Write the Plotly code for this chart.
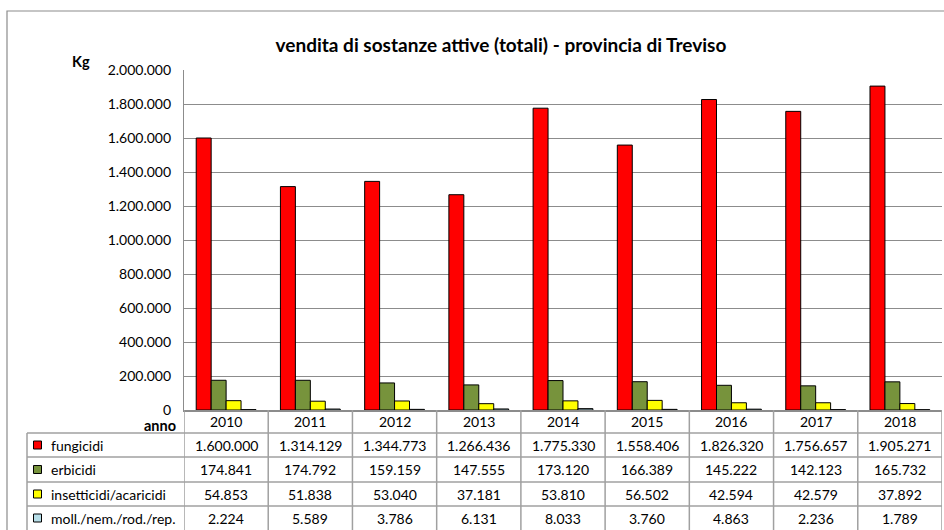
import plotly.graph_objects as go

years = ["2010", "2011", "2012", "2013", "2014", "2015", "2016", "2017", "2018"]
fungicidi = [1600000, 1314129, 1344773, 1266436, 1775330, 1558406, 1826320, 1756657, 1905271]
erbicidi = [174841, 174792, 159159, 147555, 173120, 166389, 145222, 142123, 165732]
insetticidi = [54853, 51838, 53040, 37181, 53810, 56502, 42594, 42579, 37892]
molluschicidi = [2224, 5589, 3786, 6131, 8033, 3760, 4863, 2236, 1789]

series_names = ["fungicidi", "erbicidi", "insetticidi/acaricidi", "moll./nem./rod./rep."]
series_values = [fungicidi, erbicidi, insetticidi, molluschicidi]
series_colors = ["#FF0000", "#77933C", "#FFFF00", "#B7DEE8"]

W, H = 944, 530
L, R, T, B = 184, 2, 70, 120
PW, PH = W - L - R, H - T - B
FONT = "Lato"


def px_x(px):
    return (px - L) / PW


def px_y(py):
    return (H - B - py) / PH


def fmt(v):
    return f"{v:,}".replace(",", ".")


fig = go.Figure()
for name, vals, col in zip(series_names, series_values, series_colors):
    fig.add_trace(go.Bar(x=years, y=vals, name=name, marker=dict(color=col, line=dict(color="black", width=1)),
                         showlegend=False))

shapes = []
annotations = []
grid_col = "#8C8C8C"
tab_col = "#A0A0A0"

# outer frame
shapes.append(dict(type="rect", xref="paper", yref="paper", x0=px_x(7), x1=px_x(952), y0=px_y(540), y1=px_y(11),
                   line=dict(color="#8C8C8C", width=1.2), layer="below"))

row_edges = [410, 433, 457, 482, 506, 530]
for py in row_edges[1:-1]:
    shapes.append(dict(type="line", xref="paper", yref="paper", x0=px_x(27), x1=px_x(942), y0=px_y(py), y1=px_y(py),
                       line=dict(color=tab_col, width=1.5)))
shapes.append(dict(type="line", xref="paper", yref="paper", x0=px_x(27), x1=px_x(27), y0=px_y(433), y1=px_y(535),
                   line=dict(color=tab_col, width=1.5)))
for i in range(len(years) + 1):
    shapes.append(dict(type="line", xref="x", yref="paper", x0=i - 0.5, x1=i - 0.5, y0=px_y(410), y1=px_y(535),
                       line=dict(color=tab_col, width=1.5)))

# header row
for i, yr in enumerate(years):
    annotations.append(dict(x=i, xref="x", y=px_y(421.5), yref="paper", text=yr, showarrow=False,
                            font=dict(family=FONT, size=14, color="black"), xanchor="center", yanchor="middle"))

row_centers = [445, 469.5, 494, 518]
for r, (name, vals, col) in enumerate(zip(series_names, series_values, series_colors)):
    cy = row_centers[r]
    shapes.append(dict(type="rect", xref="paper", yref="paper", x0=px_x(33.5), x1=px_x(41.5),
                       y0=px_y(cy + 4), y1=px_y(cy - 4), fillcolor=col, line=dict(color="black", width=1)))
    annotations.append(dict(x=px_x(49), xref="paper", y=px_y(cy), yref="paper", text=name, showarrow=False,
                            font=dict(family=FONT, size=14, color="black"), xanchor="left", yanchor="middle"))
    for i, v in enumerate(vals):
        annotations.append(dict(x=i, xref="x", y=px_y(cy), yref="paper", text=fmt(v), showarrow=False,
                                font=dict(family=FONT, size=14, color="black"), xanchor="center", yanchor="middle"))

annotations.append(dict(x=px_x(178), xref="paper", y=px_y(425.5), yref="paper", text="<b>anno</b>", showarrow=False,
                        font=dict(family=FONT, size=14.5, color="black"), xanchor="right", yanchor="middle"))
annotations.append(dict(x=px_x(81), xref="paper", y=px_y(61), yref="paper", text="<b>Kg</b>", showarrow=False,
                        font=dict(family=FONT, size=14.5, color="black"), xanchor="center", yanchor="middle"))

fig.update_layout(
    width=W, height=H,
    margin=dict(l=L, r=R, t=T, b=B),
    paper_bgcolor="white", plot_bgcolor="white",
    separators=",.",
    barmode="group", bargap=0.29, bargroupgap=0,
    title=dict(text="<b>vendita di sostanze attive (totali) - provincia di Treviso</b>", x=501 / W, xanchor="center",
               y=1 - 45 / H, yanchor="middle", font=dict(family=FONT, size=19, color="black")),
    font=dict(family=FONT, size=14, color="black"),
    xaxis=dict(type="category", range=[-0.5, len(years) - 0.5], showticklabels=False, showgrid=False,
               showline=True, linecolor=grid_col, linewidth=2, zeroline=False, fixedrange=True),
    yaxis=dict(range=[0, 2000000], dtick=200000, tickformat=",d", showgrid=True, gridcolor=grid_col,
               gridwidth=1, showline=True, linecolor=grid_col, linewidth=1.2, mirror=False, zeroline=False,
               ticks="", ticklabelstandoff=9, tickfont=dict(family=FONT, size=14, color="black")),
    shapes=shapes,
    annotations=annotations,
)

fig.write_html("out.html", config={"displayModeBar": False},
               post_script="document.body.style.margin='0';document.body.style.overflow='hidden';")
